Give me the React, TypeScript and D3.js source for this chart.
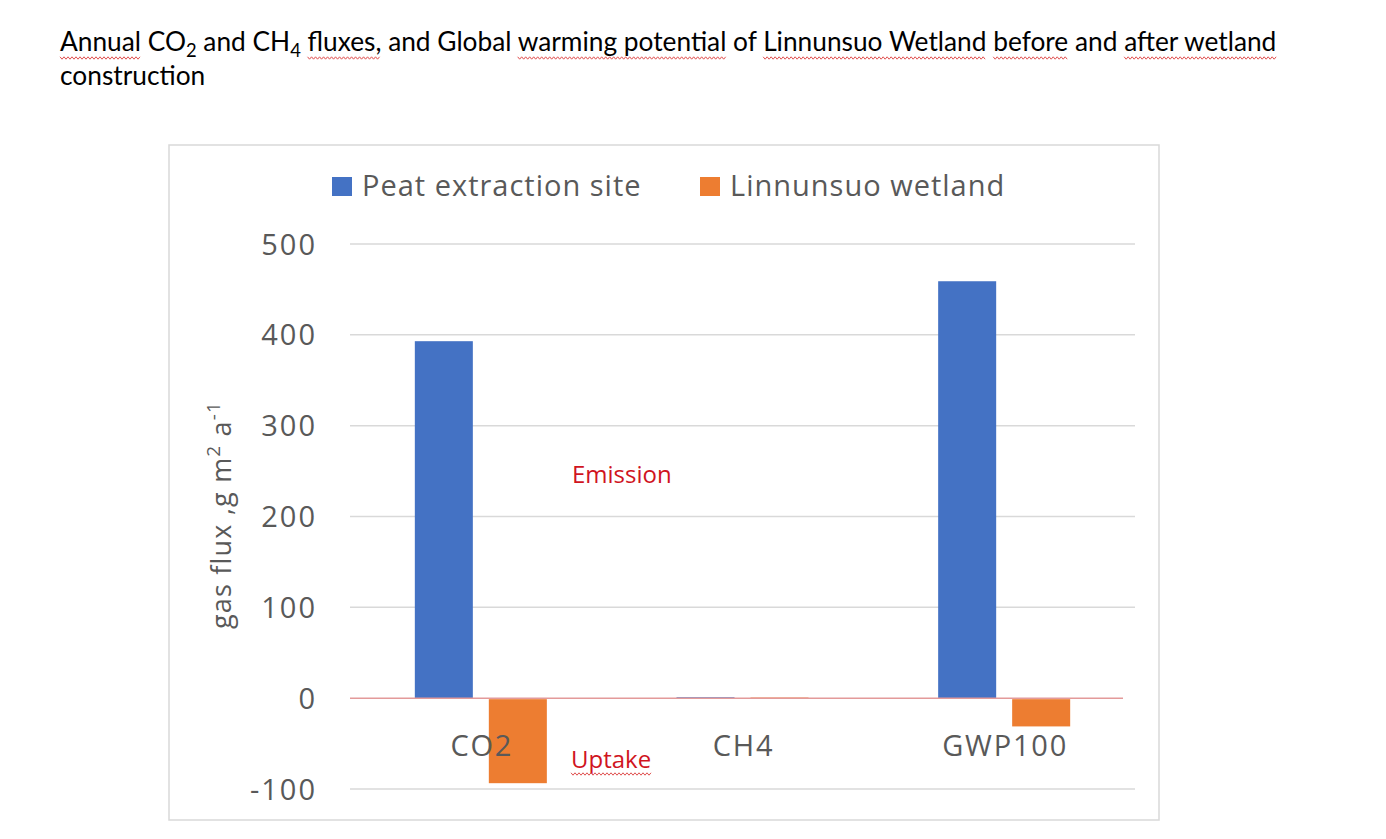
import React, { useEffect, useRef } from "react";
import * as d3 from "d3";

// ---- data ----
const categories = ["CO2", "CH4", "GWP100"];
const seriesNames = ["Peat extraction site", "Linnunsuo wetland"];
const peatValues = [393, 1, 459];
const wetlandValues = [-92.5, 0.7, -30];
const yTicks = [-100, 0, 100, 200, 300, 400, 500];
const seriesColors = ["#4472c4", "#ed7d31"];

// words with spell-check squiggles in the title
const titleSquiggles = ["Annual", "fluxes,", "warming potential", "Linnunsuo Wetland", "before", "after wetland"];

const WIDTH = 1386;
const HEIGHT = 839;
const chartFont = "Open Sans, sans-serif";
const titleFont = "Lato, Open Sans, sans-serif";

function squigglePath(x0: number, x1: number, y: number) {
  const pts: [number, number][] = [];
  let up = true;
  for (let x = x0; x <= x1; x += 2) {
    pts.push([x, up ? y - 1.2 : y + 1.2]);
    up = !up;
  }
  return d3.line()(pts) || "";
}

export default function App() {
  const ref = useRef<SVGSVGElement | null>(null);

  useEffect(() => {
    const svg = d3.select(ref.current);
    svg.selectAll("*").remove();

    // ---- title ----
    const title = svg
      .append("text")
      .attr("x", 60)
      .attr("y", 51)
      .attr("font-family", titleFont)
      .attr("font-size", 24)
      .attr("fill", "#000");
    const parts: [string, boolean][] = [
      ["Annual CO", false],
      ["2", true],
      [" and CH", false],
      ["4", true],
      [" fluxes, and Global warming potential of Linnunsuo Wetland before and after wetland", false],
    ];
    parts.forEach(([t, sub], i) => {
      const ts = title.append("tspan").text(t);
      if (sub) ts.attr("font-size", "0.7em").attr("dy", 6);
      else if (i > 0) ts.attr("dy", -6);
    });
    const titleNode = title.node() as SVGTextElement;
    const len = titleNode.getComputedTextLength();
    const titleSize = (24 * 1217) / len;
    title.attr("font-size", titleSize);

    const fullTitle = parts.map((p) => p[0]).join("");
    titleSquiggles.forEach((w) => {
      const i = fullTitle.indexOf(w);
      if (i < 0) return;
      const xa = titleNode.getStartPositionOfChar(i).x;
      const xb = titleNode.getEndPositionOfChar(i + w.length - 1).x;
      svg
        .append("path")
        .attr("d", squigglePath(xa, xb, 58))
        .attr("fill", "none")
        .attr("stroke", "#e0504f")
        .attr("stroke-width", 1);
    });

    svg
      .append("text")
      .attr("x", 60)
      .attr("y", 85)
      .attr("font-family", titleFont)
      .attr("font-size", titleSize)
      .attr("fill", "#000")
      .text("construction");

    // ---- chart frame ----
    svg
      .append("rect")
      .attr("x", 169)
      .attr("y", 145)
      .attr("width", 990)
      .attr("height", 675)
      .attr("fill", "#fff")
      .attr("stroke", "#d9d9d9")
      .attr("stroke-width", 1.5);

    // ---- scales ----
    const yScale = d3.scaleLinear().domain([-100, 500]).range([789, 244]);
    const x0 = d3.scaleBand().domain(categories).range([350, 1135]);
    const x1 = d3
      .scaleBand()
      .domain(seriesNames)
      .range([0, x0.bandwidth()])
      .paddingInner(0.216)
      .paddingOuter(0.876);

    // gridlines
    svg
      .append("g")
      .selectAll("line")
      .data(yTicks.filter((d) => d !== 0))
      .join("line")
      .attr("x1", 350)
      .attr("x2", 1135)
      .attr("y1", (d) => yScale(d))
      .attr("y2", (d) => yScale(d))
      .attr("stroke", "#d9d9d9")
      .attr("stroke-width", 1.5);

    // tick labels
    svg
      .append("g")
      .selectAll("text")
      .data(yTicks)
      .join("text")
      .attr("x", 317)
      .attr("y", (d) => yScale(d) + 10.5)
      .attr("text-anchor", "end")
      .attr("font-family", chartFont)
      .attr("font-size", 29)
      .attr("letter-spacing", 2)
      .attr("fill", "#595959")
      .text((d) => d);

    const barData = categories.flatMap((c, i) => [
      { cat: c, series: seriesNames[0], value: peatValues[i], color: seriesColors[0] },
      { cat: c, series: seriesNames[1], value: wetlandValues[i], color: seriesColors[1] },
    ]);

    svg
      .append("g")
      .selectAll("rect")
      .data(barData)
      .join("rect")
      .attr("x", (d) => (x0(d.cat) as number) + (x1(d.series) as number))
      .attr("width", x1.bandwidth())
      .attr("y", (d) => (d.value >= 0 ? yScale(d.value) : yScale(0) + 1))
      .attr("height", (d) => Math.max(1, Math.abs(yScale(d.value) - yScale(0))))
      .attr("fill", (d) => d.color);

    // zero line
    svg
      .append("line")
      .attr("x1", 350)
      .attr("x2", 1123)
      .attr("y1", yScale(0))
      .attr("y2", yScale(0))
      .attr("stroke", "#e39a9a")
      .attr("stroke-width", 1.5);

    // category labels
    svg
      .append("g")
      .selectAll("text")
      .data(categories)
      .join("text")
      .attr("x", (d) => (x0(d) as number) + x0.bandwidth() / 2 + 1)
      .attr("y", 756)
      .attr("text-anchor", "middle")
      .attr("font-family", chartFont)
      .attr("font-size", 29)
      .attr("letter-spacing", 1.8)
      .attr("fill", "#595959")
      .text((d) => d);

    // y axis title
    const yTitle = svg
      .append("text")
      .attr("transform", `translate(231, 515) rotate(-90)`)
      .attr("text-anchor", "middle")
      .attr("font-family", chartFont)
      .attr("font-size", 27)
      .attr("letter-spacing", 1.2)
      .attr("fill", "#595959");
    yTitle.append("tspan").text("gas flux ,g m");
    yTitle.append("tspan").attr("font-size", "0.7em").attr("dy", -11).text("2");
    yTitle.append("tspan").attr("dy", 11).text(" a");
    yTitle.append("tspan").attr("font-size", "0.7em").attr("dy", -11).text("-1");

    // legend
    const legend = svg
      .append("g")
      .selectAll("g")
      .data(seriesNames)
      .join("g")
      .attr("transform", (d, i) => `translate(${i === 0 ? 332 : 700}, 177)`);
    legend
      .append("rect")
      .attr("width", 20)
      .attr("height", 19)
      .attr("fill", (d, i) => seriesColors[i]);
    legend
      .append("text")
      .attr("x", 30)
      .attr("y", 19)
      .attr("font-family", chartFont)
      .attr("font-size", 29)
      .attr("letter-spacing", 1)
      .attr("fill", "#595959")
      .text((d) => d);

    // annotations
    svg
      .append("text")
      .attr("x", 572)
      .attr("y", 483)
      .attr("font-family", chartFont)
      .attr("font-size", 24)
      .attr("fill", "#d0141e")
      .text("Emission");
    const uptake = svg
      .append("text")
      .attr("x", 571)
      .attr("y", 768)
      .attr("font-family", chartFont)
      .attr("font-size", 24)
      .attr("fill", "#d0141e")
      .text("Uptake");
    const uw = (uptake.node() as SVGTextElement).getComputedTextLength();
    svg
      .append("path")
      .attr("d", squigglePath(571, 571 + uw, 774))
      .attr("fill", "none")
      .attr("stroke", "#e0504f")
      .attr("stroke-width", 1);
  }, []);

  return (
    <svg
      ref={ref}
      width={WIDTH}
      height={HEIGHT}
      style={{ position: "absolute", left: 0, top: 0, background: "#fff" }}
    />
  );
}
